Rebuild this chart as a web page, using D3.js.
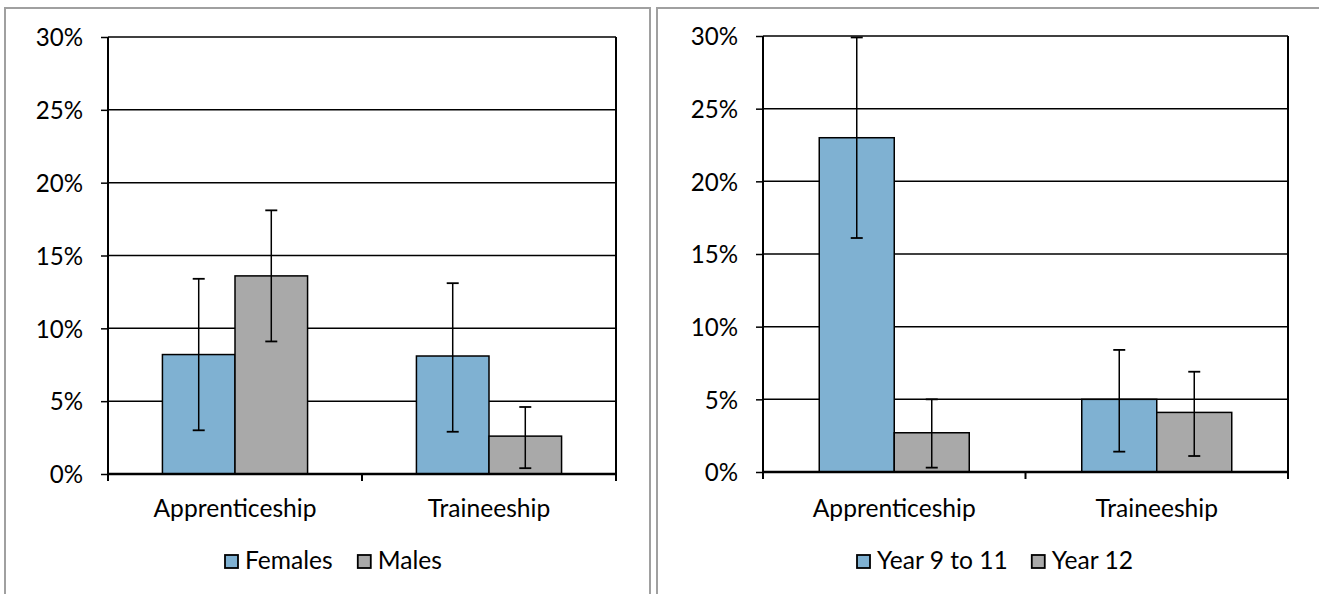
<!DOCTYPE html>
<html><head><meta charset="utf-8">
<script src="https://cdn.jsdelivr.net/npm/d3@7"></script>
<style>
body{margin:0;background:#fff;}
svg{display:block;}
text{font-family:Lato,"Open Sans",sans-serif;fill:#000;}
</style></head><body>
<svg id="c" width="1319" height="594"></svg>
<script>
const categories = ["Apprenticeship", "Traineeship"];
const yTicks = [0, 0.05, 0.10, 0.15, 0.20, 0.25, 0.30];

// Left chart: by sex
const leftSeries = ["Females", "Males"];
const leftValues = [[0.082, 0.081], [0.136, 0.026]];
const leftLow = [[0.030, 0.029], [0.091, 0.004]];
const leftHigh = [[0.134, 0.131], [0.181, 0.046]];

// Right chart: by school year
const rightSeries = ["Year 9 to 11", "Year 12"];
const rightValues = [[0.230, 0.050], [0.027, 0.041]];
const rightLow = [[0.161, 0.014], [0.003, 0.011]];
const rightHigh = [[0.299, 0.084], [0.050, 0.069]];

const colors = ["#7FB1D2", "#A9A9A9"];

const svg = d3.select("#c");

const probe = svg.append("text").style("font-size", "100px").text("Apprenticeship");
const probeW = probe.node().getComputedTextLength();
probe.remove();
const FS = Math.min(26, 100 * 163 / probeW);

function panel(cfg) {
  svg.append("rect").attr("x", cfg.bx).attr("y", cfg.by).attr("width", cfg.bw).attr("height", cfg.bh)
    .attr("fill", "#fff").attr("stroke", "#A0A0A0").attr("stroke-width", 2);

  const g = svg.append("g");
  const x = d3.scaleBand().domain(categories).range([cfg.x0, cfg.x1]).paddingInner(0).paddingOuter(0);
  const y = d3.scaleLinear().domain([0, 0.30]).range([cfg.y0, cfg.y1]);
  const inner = d3.scaleBand().domain(cfg.series).range([0, x.bandwidth()]).paddingInner(0).paddingOuter(0.75);

  g.selectAll(".grid").data(yTicks.slice(1)).join("line")
    .attr("x1", cfg.x0).attr("x2", cfg.x1)
    .attr("y1", d => y(d)).attr("y2", d => y(d))
    .attr("stroke", "#000").attr("stroke-width", 1.5);

  g.append("line").attr("x1", cfg.x1).attr("x2", cfg.x1).attr("y1", cfg.y1).attr("y2", cfg.y0)
    .attr("stroke", "#000").attr("stroke-width", 2);

  cfg.series.forEach((s, si) => {
    categories.forEach((c, ci) => {
      const v = cfg.values[si][ci];
      const bx = x(c) + inner(s);
      g.append("rect").attr("x", bx).attr("y", y(v)).attr("width", inner.bandwidth()).attr("height", y(0) - y(v))
        .attr("fill", colors[si]).attr("stroke", "#000").attr("stroke-width", 1.5);
    });
  });
  cfg.series.forEach((s, si) => {
    categories.forEach((c, ci) => {
      const cx = x(c) + inner(s) + inner.bandwidth() / 2;
      const lo = y(cfg.low[si][ci]), hi = y(cfg.high[si][ci]);
      g.append("line").attr("x1", cx).attr("x2", cx).attr("y1", lo).attr("y2", hi).attr("stroke", "#000").attr("stroke-width", 1.5);
      [lo, hi].forEach(yy => g.append("line").attr("x1", cx - 6).attr("x2", cx + 6).attr("y1", yy).attr("y2", yy)
        .attr("stroke", "#000").attr("stroke-width", 1.8));
    });
  });

  const yAxis = d3.axisLeft(y).tickValues(yTicks).tickFormat(d3.format(".0%")).tickSize(7).tickPadding(18);
  const ya = g.append("g").attr("transform", `translate(${cfg.x0},0)`).call(yAxis);
  ya.select(".domain").attr("stroke", "#000").attr("stroke-width", 2).attr("d", `M0,${cfg.y0}V${cfg.y1}`);
  ya.selectAll(".tick line").attr("stroke", "#000").attr("stroke-width", 1.5);
  ya.selectAll(".tick text").style("font-size", (FS - 0.5) + "px").attr("dy", "0.36em");

  const xa = g.append("g").attr("transform", `translate(0,${cfg.y0})`);
  xa.append("line").attr("x1", cfg.x0).attr("x2", cfg.x1).attr("stroke", "#000").attr("stroke-width", 2.5);
  const edges = [cfg.x0].concat(categories.map(c => x(c) + x.bandwidth()));
  xa.selectAll(".xt").data(edges).join("line").attr("x1", d => d).attr("x2", d => d).attr("y1", 0).attr("y2", 7)
    .attr("stroke", "#000").attr("stroke-width", 2);
  xa.selectAll(".xl").data(categories).join("text")
    .attr("x", d => x(d) + x.bandwidth() / 2).attr("y", 517 - cfg.y0)
    .attr("text-anchor", "middle").style("font-size", FS + "px").text(d => d);

  const lg = svg.append("g");
  let lx = cfg.legendX;
  cfg.series.forEach((s, si) => {
    lg.append("rect").attr("x", lx).attr("y", 555).attr("width", 13).attr("height", 13)
      .attr("fill", colors[si]).attr("stroke", "#000").attr("stroke-width", 1.8);
    const t = lg.append("text").attr("x", lx + cfg.textOff).attr("y", 569).style("font-size", FS + "px").text(s);
    lx += cfg.textOff + t.node().getComputedTextLength() + cfg.legendGap;
  });
}

panel({
  bx: 5, by: 8, bw: 645, bh: 600,
  x0: 108, x1: 616, y0: 474, y1: 37,
  series: leftSeries, values: leftValues, low: leftLow, high: leftHigh,
  legendX: 225, textOff: 20, legendGap: 25
});
panel({
  bx: 657, by: 8, bw: 680, bh: 600,
  x0: 763, x1: 1288, y0: 472, y1: 36,
  series: rightSeries, values: rightValues, low: rightLow, high: rightHigh,
  legendX: 857, textOff: 20, legendGap: 24
});
</script>
</body></html>
